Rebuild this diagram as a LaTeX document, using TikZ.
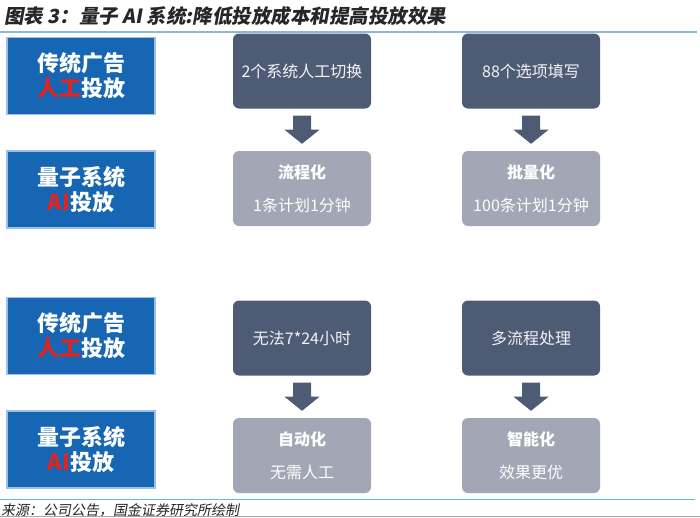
\documentclass[tikz,border=0pt]{standalone}
\usepackage{fontspec}
\usetikzlibrary{calc}
\newfontfamily\cjk{Noto Sans CJK SC}
\newfontfamily\titlecjk{Noto Sans CJK SC}[FakeSlant=0.18]
\definecolor{bluebox}{HTML}{1766B4}
\definecolor{blueedge}{HTML}{9CC0E6}
\definecolor{darkbox}{HTML}{4E5B75}
\definecolor{lightbox}{HTML}{A3A7B5}
\definecolor{redtxt}{HTML}{E3231E}
\definecolor{topline}{HTML}{86BCD6}
\definecolor{botline}{HTML}{5EBDBF}
\definecolor{titletxt}{HTML}{262626}
\tikzset{
  bluebx/.style={fill=bluebox, draw=blueedge, line width=1.2pt, minimum width=148, minimum height=77,
    text=white, align=center, font=\cjk\bfseries\fontsize{22}{25}\selectfont, inner sep=0pt},
  darkbx/.style={fill=darkbox, rounded corners=6, minimum width=138, minimum height=75,
    text=white!93!darkbox, align=center, font=\cjk\fontsize{16}{20}\selectfont, inner sep=0pt},
  lightbx/.style={fill=lightbox, rounded corners=6, minimum width=138, minimum height=75,
    text=white, align=center, font=\cjk\fontsize{16}{20}\selectfont, inner sep=0pt},
  blockarrow/.style={fill=darkbox},
}
\begin{document}
\begin{tikzpicture}[x=1pt,y=-1pt]
\useasboundingbox (0,0) rectangle (700,517);
\fill[white] (0,0) rectangle (700,517);
% title
\node[anchor=west, text=titletxt, font=\titlecjk\bfseries\fontsize{19.5}{22}\selectfont, inner sep=0pt] (title) at (4,16) {图表 3：量子 AI 系统:降低投放成本和提高投放效果};
\coordinate (tl1) at (0,32); \coordinate (tl2) at (697,32);
\draw[topline, line width=1.2pt] (tl1) -- (tl2);
% left blue boxes
\node[bluebx] (b1) at (81,76) {传统广告\\\textcolor{redtxt}{人工}投放};
\node[bluebx] (b2) at (81,189.5) {量子系统\\\textcolor{redtxt}{AI}投放};
\node[bluebx] (b3) at (81,336) {传统广告\\\textcolor{redtxt}{人工}投放};
\node[bluebx] (b4) at (81,449.5) {量子系统\\\textcolor{redtxt}{AI}投放};
% dark boxes
\node[darkbx] (d1) at (302,71) {2个系统人工切换};
\node[darkbx] (d2) at (531,71) {88个选项填写};
\node[darkbx] (d3) at (302,338) {无法7*24小时};
\node[darkbx] (d4) at (531,338) {多流程处理};
% light boxes
\node[lightbx] (l1) at (302,188.5) {{\bfseries 流程化}\\[13pt]1条计划1分钟};
\node[lightbx] (l2) at (531,188.5) {{\bfseries 批量化}\\[13pt]100条计划1分钟};
\node[lightbx] (l3) at (302,455.5) {{\bfseries 自动化}\\[13pt]无需人工};
\node[lightbx] (l4) at (531,455.5) {{\bfseries 智能化}\\[13pt]效果更优};
% block arrows
\foreach \a/\b in {d1/l1, d2/l2, d3/l3, d4/l4}{
  \fill[blockarrow] ($(\a.south)+(-9,7)$) -- ($(\a.south)+(9,7)$) -- ($(\a.south)+(9,21)$)
    -- ($(\a.south)+(17.5,21)$) -- ($(\b.north)+(0,-7)$) -- ($(\a.south)+(-17.5,21)$)
    -- ($(\a.south)+(-9,21)$) -- cycle;
}
% bottom
\coordinate (bl1) at (0,499); \coordinate (bl2) at (695,499);
\draw[botline, line width=1pt] (bl1) -- (bl2);
\node[anchor=west, text=titletxt, font=\titlecjk\fontsize{14}{16}\selectfont, inner sep=0pt] (src) at (1,510.5) {来源：公司公告，国金证券研究所绘制};
\coordinate (gl1) at (0,516.3); \coordinate (gl2) at (700,516.3);
\draw[gray!70, line width=0.8pt] (gl1) -- (gl2);
\end{tikzpicture}
\end{document}
